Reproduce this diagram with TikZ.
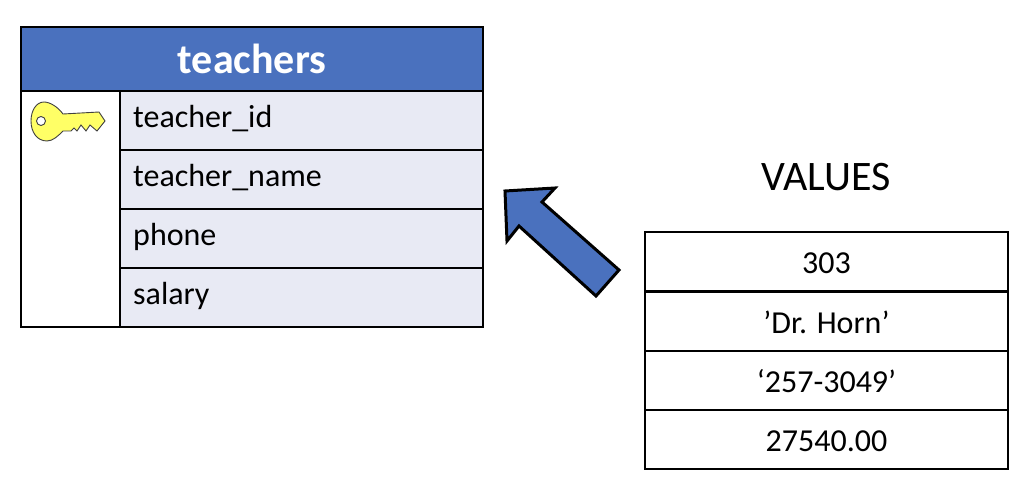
\documentclass[tikz,border=0pt]{standalone}
\usepackage{fontspec}
\setmainfont{Carlito}
\definecolor{headblue}{HTML}{4A71BE}
\definecolor{rowblue}{HTML}{E8EAF4}
\definecolor{keyyellow}{HTML}{FFFF66}
\tikzset{
  cellrow/.style={draw=black,line width=1.8pt,fill=rowblue,minimum width=363pt,minimum height=59pt,
    inner sep=0pt,outer sep=0pt,anchor=north west},
  valrow/.style={draw=black,line width=1.8pt,fill=white,minimum width=363pt,minimum height=59pt,
    inner sep=0pt,outer sep=0pt,anchor=north west,font=\fontsize{32}{38}\selectfont,text height=24pt,text depth=0pt},
}
\begin{document}
\begin{tikzpicture}[x=1pt,y=-1pt]
  \useasboundingbox (0,0) rectangle (1028,486);

  % left table
  \draw[line width=1.8pt,fill=white] (21,91) rectangle (120,327);
  \node[draw=black,line width=1.8pt,fill=headblue,minimum width=462pt,minimum height=64pt,inner sep=0pt,outer sep=0pt,anchor=north west,
    text=white,font=\fontsize{42}{50}\selectfont\bfseries] (head) at (21,27) {teachers};
  \foreach \y/\i/\t in {91/0/teacher\_id,150/1/teacher\_name,209/2/phone,268/3/salary} {
    \node[cellrow] (r\i) at (120,\y) {};
    \node[anchor=base west,inner sep=0pt,font=\fontsize{32}{38}\selectfont] (t\i) at (133,\y+37) {\t};
  }

  % key
  \draw[line width=.9pt,black!75,fill=keyyellow] (63,114) .. controls (58,107) and (50,102) .. (44,102)
    .. controls (36,102) and (31,111) .. (31,121) .. controls (31,132) and (37,141) .. (47,141)
    .. controls (53,141) and (58,136) .. (63,131) -- (71,131) -- (74,128) -- (77,131) -- (81,125)
    -- (86,131) -- (90,125) -- (97,131) -- (105,121) -- (99,112) -- cycle;
  \draw[line width=.9pt,black!75,fill=white] (41,121) circle (4.5);

  % arrow
  \draw[line width=3pt,black,fill=headblue,line join=miter]
    (505,191) -- (555,188) -- (542,202) -- (619,270) -- (596,296) -- (519,226) -- (507,241) -- cycle;

  % right table
  \node[font=\fontsize{42}{50}\selectfont,inner sep=0pt] (vals) at (826,177) {VALUES};
  \foreach \y/\i/\t in {232/0/303,292/1/’Dr. Horn’,351/2/‘257-3049’,410/3/27540.00} {
    \node[valrow] (v\i) at (645,\y) {\t};
  }
\end{tikzpicture}
\end{document}
